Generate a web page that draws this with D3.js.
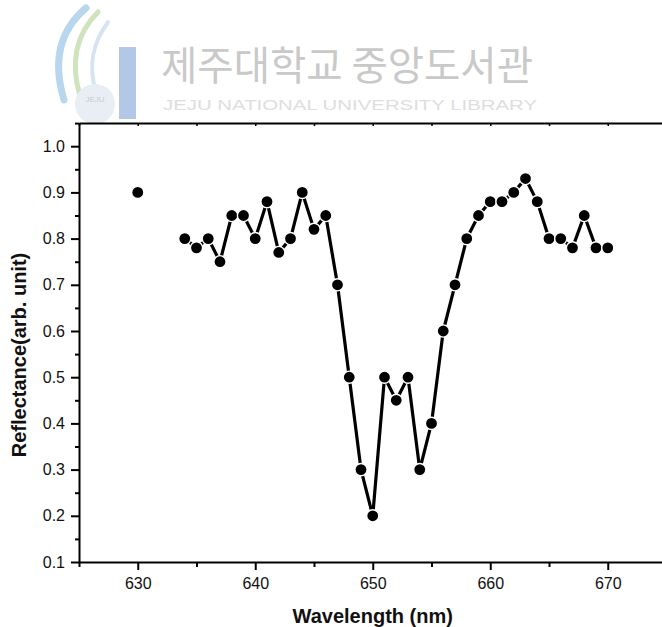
<!DOCTYPE html>
<html>
<head>
<meta charset="utf-8">
<script src="https://cdn.jsdelivr.net/npm/d3@7"></script>
<style>
  html, body { margin: 0; padding: 0; background: #fff; }
  svg { display: block; }
</style>
</head>
<body>
<svg id="chart" width="662" height="627"></svg>
<script>
// ---- data ----
const wavelength = [630, 634, 635, 636, 637, 638, 639, 640, 641, 642, 643, 644, 645, 646, 647, 648, 649,
  650, 651, 652, 653, 654, 655, 656, 657, 658, 659, 660, 661, 662, 663, 664, 665, 666, 667, 668, 669, 670];
const reflectance = [0.90, 0.80, 0.78, 0.80, 0.75, 0.85, 0.85, 0.80, 0.88, 0.77, 0.80, 0.90, 0.82, 0.85, 0.70, 0.50, 0.30,
  0.20, 0.50, 0.45, 0.50, 0.30, 0.40, 0.60, 0.70, 0.80, 0.85, 0.88, 0.88, 0.90, 0.93, 0.88, 0.80, 0.80, 0.78, 0.85, 0.78, 0.78];
const xMajorTicks = [630, 640, 650, 660, 670];
const xMinorTicks = [625, 635, 645, 655, 665, 675];
const yMajorTicks = [0.1, 0.2, 0.3, 0.4, 0.5, 0.6, 0.7, 0.8, 0.9, 1.0];
const yMinorTicks = [0.15, 0.25, 0.35, 0.45, 0.55, 0.65, 0.75, 0.85, 0.95, 1.05];
const xTitle = "Wavelength (nm)";
const yTitle = "Reflectance(arb. unit)";
const watermarkKo = "제주대학교 중앙도서관";
const watermarkEn = "JEJU NATIONAL UNIVERSITY LIBRARY";

const svg = d3.select("#chart");
const font = "'Liberation Sans', Arial, sans-serif";

// ---- watermark ----
const wm = svg.append("g").attr("class", "watermark");
wm.append("path").attr("d", "M86,8 C60,30 52,60 64,100")
  .attr("fill", "none").attr("stroke", "#b9d6ef").attr("stroke-width", 7).attr("stroke-linecap", "round");
wm.append("path").attr("d", "M98,12 C76,34 70,62 80,96")
  .attr("fill", "none").attr("stroke", "#cfe3bd").attr("stroke-width", 5).attr("stroke-linecap", "round");
wm.append("path").attr("d", "M108,22 C92,44 88,66 96,92")
  .attr("fill", "none").attr("stroke", "#d5e4f2").attr("stroke-width", 4).attr("stroke-linecap", "round");
wm.append("circle").attr("cx", 95).attr("cy", 104).attr("r", 20)
  .attr("fill", "#e9eef5");
wm.append("text").attr("x", 95).attr("y", 102).attr("text-anchor", "middle")
  .attr("font-family", font).attr("font-size", 8).attr("fill", "#c5ccd6").text("JEJU");
wm.append("rect").attr("x", 119).attr("y", 47).attr("width", 17).attr("height", 72)
  .attr("fill", "#b3c7e6");
wm.append("text").attr("x", 161).attr("y", 80)
  .attr("font-family", "'Noto Sans CJK KR', sans-serif").attr("font-size", 40)
  .attr("textLength", 372).attr("lengthAdjust", "spacingAndGlyphs")
  .attr("fill", "#c9c9c9").text(watermarkKo);
wm.append("text").attr("x", 163).attr("y", 110)
  .attr("font-family", font).attr("font-size", 15)
  .attr("textLength", 374).attr("lengthAdjust", "spacingAndGlyphs")
  .attr("fill", "#dedede").text(watermarkEn);

// ---- scales ----
const x = d3.scaleLinear().domain([625, 675]).range([79, 666.5]);
const y = d3.scaleLinear().domain([0.1, 1.05]).range([562, 123.1]);

// ---- axes ----
const axisStyle = g => {
  g.selectAll("path.domain").attr("stroke", "#000").attr("stroke-width", 2);
  g.selectAll(".tick line").attr("stroke", "#000").attr("stroke-width", 2);
  g.selectAll(".tick text").attr("font-family", font).attr("font-size", 16).attr("fill", "#111");
};

// top frame line with small inward ticks
svg.append("g").attr("transform", `translate(0,${y(1.05)})`)
  .call(d3.axisTop(x).tickValues(d3.range(625, 676, 5)).tickSize(-3).tickSizeOuter(0).tickFormat(""))
  .call(axisStyle)
  .call(g => g.selectAll(".tick line").attr("stroke-width", 1.5));

// bottom axis
svg.append("g").attr("transform", `translate(0,${y(0.1)})`)
  .call(d3.axisBottom(x).tickValues(xMinorTicks).tickSize(5).tickSizeOuter(0).tickFormat(""))
  .call(axisStyle);
svg.append("g").attr("transform", `translate(0,${y(0.1)})`)
  .call(d3.axisBottom(x).tickValues(xMajorTicks).tickSize(8).tickSizeOuter(0).tickPadding(8).tickFormat(d3.format("d")))
  .call(axisStyle)
  .call(g => g.select("path.domain").remove());

// left axis
svg.append("g").attr("transform", `translate(${x(625)},0)`)
  .call(d3.axisLeft(y).tickValues(yMinorTicks).tickSize(4).tickSizeOuter(0).tickFormat(""))
  .call(axisStyle);
svg.append("g").attr("transform", `translate(${x(625)},0)`)
  .call(d3.axisLeft(y).tickValues(yMajorTicks).tickSize(8).tickSizeOuter(0).tickPadding(6).tickFormat(d3.format(".1f")))
  .call(axisStyle)
  .call(g => g.select("path.domain").remove());

// titles
svg.append("text").attr("x", x(650)).attr("y", 623).attr("text-anchor", "middle")
  .attr("font-family", font).attr("font-weight", "bold").attr("font-size", 20).attr("fill", "#111")
  .text(xTitle);
svg.append("text").attr("transform", `translate(26,355) rotate(-90)`).attr("text-anchor", "middle")
  .attr("font-family", font).attr("font-weight", "bold").attr("font-size", 20).attr("fill", "#111")
  .text(yTitle);

// ---- data ----
const pts = wavelength.map((w, i) => ({ w, r: reflectance[i] }));
// split into contiguous segments (gap where wavelength step > 1)
const segments = [];
pts.forEach((p, i) => {
  if (i === 0 || p.w - pts[i - 1].w > 1) segments.push([]);
  segments[segments.length - 1].push(p);
});
const line = d3.line().x(d => x(d.w)).y(d => y(d.r));
svg.append("g").selectAll("path").data(segments.filter(s => s.length > 1)).join("path")
  .attr("d", line).attr("fill", "none").attr("stroke", "#000").attr("stroke-width", 3.2)
  .attr("stroke-linejoin", "round");
svg.append("g").selectAll("circle").data(pts).join("circle")
  .attr("cx", d => x(d.w)).attr("cy", d => y(d.r)).attr("r", 6.1)
  .attr("fill", "#000").attr("stroke", "#fff").attr("stroke-width", 1.4);
</script>
</body>
</html>
